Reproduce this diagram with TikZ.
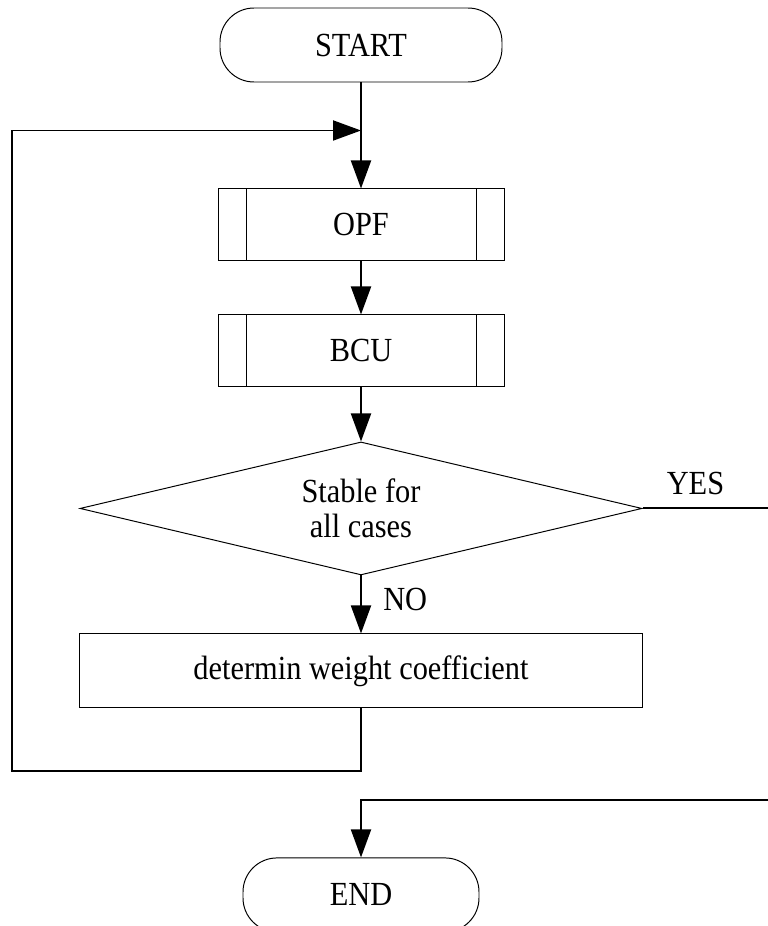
\documentclass[tikz,border=0pt]{standalone}
\usepackage{fontspec}
\setmainfont{Liberation Serif}[FakeStretch=0.9]
\usetikzlibrary{arrows.meta,positioning,shapes.geometric}

\begin{document}
\begin{tikzpicture}[
    node distance=1.3cm,
    every node/.style={font=\fontsize{24}{25}\selectfont},
    termbox/.style={draw, line width=0.7pt, rounded corners=0.85cm, minimum width=7.05cm, minimum height=1.85cm},
    procbox/.style={draw, line width=0.7pt, minimum width=7.15cm, minimum height=1.8cm,
      path picture={\draw[line width=0.7pt]
        ([xshift=0.7cm]path picture bounding box.north west) -- ([xshift=0.7cm]path picture bounding box.south west)
        ([xshift=-0.7cm]path picture bounding box.north east) -- ([xshift=-0.7cm]path picture bounding box.south east);}},
    decision/.style={diamond, draw, line width=0.7pt, aspect=4.2, inner sep=0pt, minimum width=14.05cm, minimum height=3.325cm, align=center},
    taskbox/.style={draw, line width=0.7pt, minimum width=14.075cm, minimum height=1.85cm},
    lbl/.style={inner sep=0pt},
    line/.style={line width=1.4pt},
    flow/.style={-{Triangle[length=0.7cm,width=0.5cm]}, line width=1.4pt}
  ]
    \useasboundingbox (0,0) rectangle (19.2,-23.15);
    \node[termbox] (start) at (9.025,-1.125) {START};
    \node[procbox, below=2.65cm of start] (opf) {OPF};
    \node[procbox, below=1.325cm of opf] (bcu) {BCU};
    \node[decision, below=1.35cm of bcu] (stable) {Stable for\\all cases};
    \node[taskbox, below=1.45cm of stable] (weight) {determin weight coefficient};
    \node[termbox, minimum width=5.9cm, below=3.725cm of weight] (end) {END};
    % labels on the branches
    \node[lbl, anchor=south west] (yes) at ([xshift=0.6cm,yshift=0.33cm]stable.east) {YES};
    \node[lbl, anchor=base west] (no) at ([xshift=0.55cm,yshift=-0.875cm]stable.south) {NO};
    % helper points
    \coordinate[below=1.2cm of start] (join);
    \coordinate[below=1.575cm of weight] (loopbot);
    \coordinate[above=1.425cm of end] (endturn);
    \coordinate (leftrim) at (0.3,0);
    \coordinate (rightrim) at (19.2,0);
    \draw[flow] (start) -- (opf);
    \draw[flow] (opf) -- (bcu);
    \draw[flow] (bcu) -- (stable);
    \draw[flow] (stable) -- (weight);
    \draw[flow] (weight.south) -- (loopbot) -- (loopbot -| leftrim) -- (join -| leftrim) -- (join);
    \draw[line] (stable.east) -- (stable.east -| rightrim);
    \draw[flow] (endturn -| rightrim) -- (endturn) -- (end);
  \end{tikzpicture}
\end{document}
